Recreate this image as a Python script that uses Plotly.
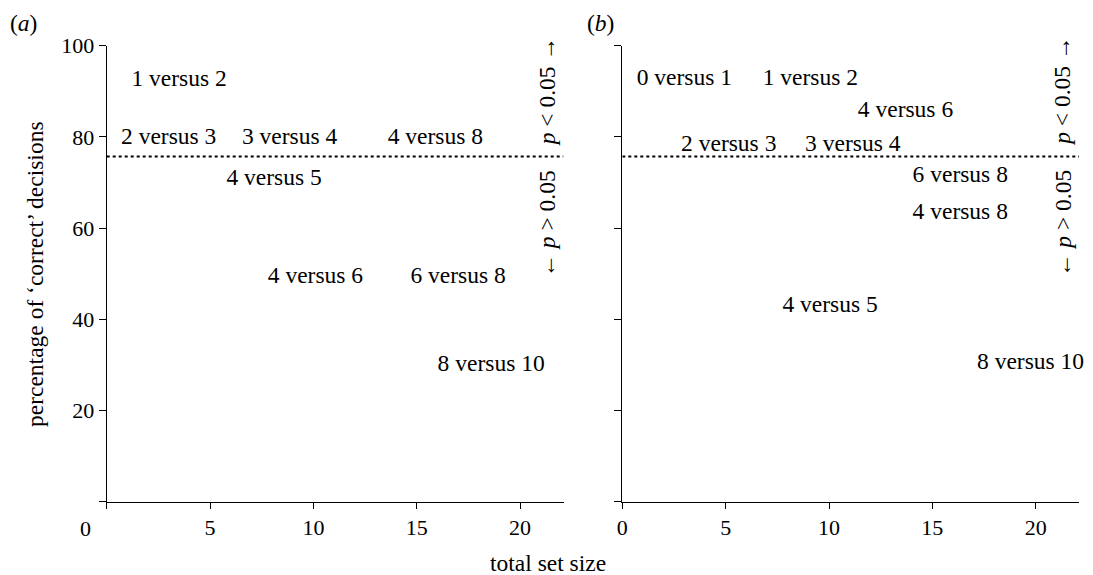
import plotly.graph_objects as go

# ---- data ----
labels_a = ["1 versus 2", "2 versus 3", "3 versus 4", "4 versus 8", "4 versus 5",
            "4 versus 6", "6 versus 8", "8 versus 10"]
x_a = [3.5, 3.0, 8.85, 15.9, 8.1, 10.1, 17.0, 18.6]
y_a = [92.5, 79.7, 79.7, 79.7, 70.7, 49.3, 49.3, 30.0]

labels_b = ["0 versus 1", "1 versus 2", "4 versus 6", "2 versus 3", "3 versus 4",
            "6 versus 8", "4 versus 8", "4 versus 5", "8 versus 10"]
x_b = [3.0, 9.1, 13.7, 5.15, 11.15, 16.35, 16.35, 10.05, 19.75]
y_b = [92.7, 92.7, 85.7, 78.2, 78.2, 71.3, 63.2, 42.8, 30.4]

threshold = 75.7
x_ticks = [0, 5, 10, 15, 20]
y_ticks = [0, 20, 40, 60, 80, 100]
y_ticktext = ["", "20", "40", "60", "80", "100"]

FONT = "Liberation Serif"
FS = 22
LFS = 23.5

# page body has an 8px margin; size the figure so it fits the window
OFF = 8
W, H = 1093 - OFF, 575 - OFF


def px(xp):
    return (xp - OFF) / W


def py(yp):
    return (H - (yp - OFF)) / H


XMAX = 22.1
fig = go.Figure()

# threshold lines
for xa, ya in [("x", "y"), ("x2", "y2")]:
    fig.add_trace(go.Scatter(x=[0, XMAX], y=[threshold, threshold], mode="lines",
                             line=dict(color="black", width=2, dash="dot"),
                             xaxis=xa, yaxis=ya, showlegend=False, hoverinfo="skip"))

fig.add_trace(go.Scatter(x=x_a, y=y_a, text=labels_a, mode="text",
                         textposition="middle center", cliponaxis=False,
                         textfont=dict(family=FONT, size=LFS, color="black"),
                         xaxis="x", yaxis="y", showlegend=False))
fig.add_trace(go.Scatter(x=x_b, y=y_b, text=labels_b, mode="text",
                         textposition="middle center", cliponaxis=False,
                         textfont=dict(family=FONT, size=LFS, color="black"),
                         xaxis="x2", yaxis="y2", showlegend=False))

axis_common = dict(showline=True, linecolor="black", linewidth=1.2,
                   ticks="outside", tickcolor="black", tickwidth=1.2,
                   showgrid=False, zeroline=False, automargin=False,
                   tickfont=dict(family=FONT, size=FS, color="black"))

ydom = [py(501.7), py(45.7)]
pxu = 20.67
fig.update_layout(
    template="none",
    font=dict(family=FONT, size=FS, color="black"),
    width=W, height=H, autosize=False,
    margin=dict(l=0, r=0, t=0, b=0, pad=0),
    paper_bgcolor="white", plot_bgcolor="white",
    xaxis=dict(domain=[px(106.7), px(106.7 + XMAX * pxu)], range=[0, XMAX], tickvals=x_ticks,
               ticktext=["", "5", "10", "15", "20"], ticklen=6, anchor="y", **axis_common),
    yaxis=dict(domain=ydom, range=[0, 100], tickvals=y_ticks,
               ticktext=y_ticktext, ticklen=7, anchor="x", **axis_common),
    xaxis2=dict(domain=[px(622.3), px(622.3 + XMAX * pxu)], range=[0, XMAX], tickvals=x_ticks,
                ticktext=[str(t) for t in x_ticks], ticklen=6, anchor="y2", **axis_common),
    yaxis2=dict(domain=ydom, range=[0, 100], tickvals=y_ticks,
                showticklabels=False, ticklen=7, anchor="x2", **axis_common),
)

ann_font = dict(family=FONT, size=LFS, color="black")
C = dict(xanchor="center", yanchor="middle", showarrow=False)
anns = [
    dict(text="0", x=0, y=0, xref="x", yref="y", xshift=-21, yshift=-27,
         font=dict(family=FONT, size=FS, color="black"), **C),
    dict(text="(<i>a</i>)", x=px(23), y=py(23), xref="paper", yref="paper",
         font=ann_font, **C),
    dict(text="(<i>b</i>)", x=px(600), y=py(23), xref="paper", yref="paper",
         font=ann_font, **C),
    dict(text="percentage of ‘correct’ decisions", x=px(35), y=py(274),
         xref="paper", yref="paper", textangle=-90, font=ann_font, **C),
    dict(text="total set size", x=px(548), y=py(563),
         xref="paper", yref="paper", font=ann_font, **C),
]
for xr, yr in [("x", "y"), ("x2", "y2")]:
    anns.append(dict(text="<i>p</i> < 0.05 →", x=21.3, y=90, xref=xr, yref=yr,
                     textangle=-90, font=ann_font, **C))
    anns.append(dict(text="← <i>p</i> > 0.05", x=21.3, y=61, xref=xr, yref=yr,
                     textangle=-90, font=ann_font, **C))
fig.update_layout(annotations=anns)

fig.write_html("out.html")
